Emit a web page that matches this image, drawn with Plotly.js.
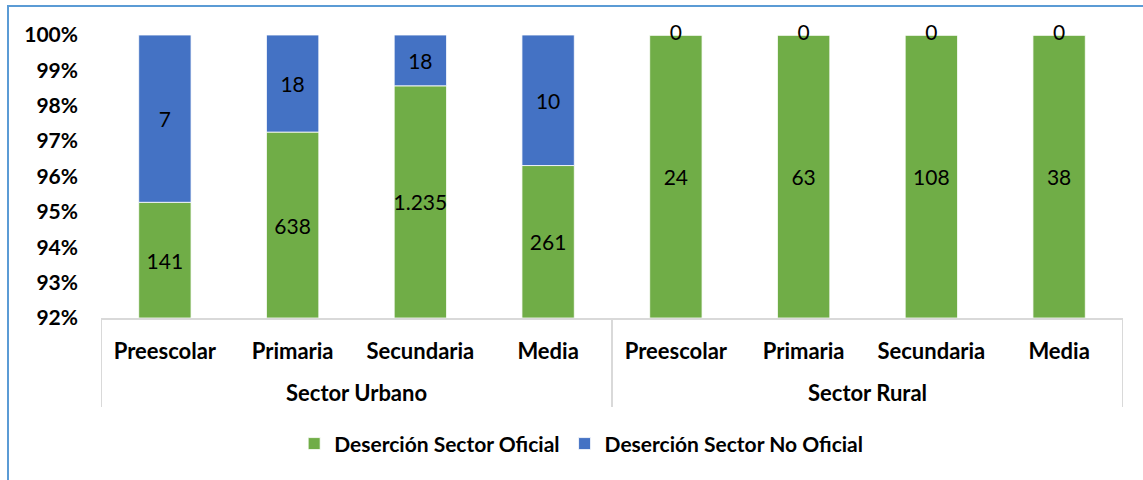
<!DOCTYPE html>
<html>
<head>
<meta charset="utf-8">
<script src="https://cdn.plot.ly/plotly-3.0.1.min.js"></script>
<style>
  html, body { margin: 0; padding: 0; background: #ffffff; }
  #wrap { position: relative; width: 1143px; height: 480px; overflow: hidden; }
  #chart { position: absolute; left: 0; top: 0; width: 1143px; height: 480px; }
  #frame { position: absolute; left: 7px; top: 5px; width: 1200px; height: 600px;
           border-left: 2px solid #5B9BD5; border-top: 2px solid #5B9BD5; pointer-events: none; }
</style>
</head>
<body>
<div id="wrap">
  <div id="chart"></div>
  <div id="frame"></div>
</div>
<script>
// ---- data ----
const sectores = ["Sector Urbano", "Sector Urbano", "Sector Urbano", "Sector Urbano",
                  "Sector Rural", "Sector Rural", "Sector Rural", "Sector Rural"];
const niveles = ["Preescolar", "Primaria", "Secundaria", "Media",
                 "Preescolar", "Primaria", "Secundaria", "Media"];
const desercionOficial = [141, 638, 1235, 261, 24, 63, 108, 38];
const desercionNoOficial = [7, 18, 18, 10, 0, 0, 0, 0];
const labelsOficial = ["141", "638", "1.235", "261", "24", "63", "108", "38"];
const labelsNoOficial = ["7", "18", "18", "10", "0", "0", "0", "0"];
const yTicks = [92, 93, 94, 95, 96, 97, 98, 99, 100];

const GREEN = "#70AD47";
const BLUE = "#4472C4";
const GRID = "#D9D9D9";
const FONT = "Lato, 'Open Sans', sans-serif";
const Y_MIN = yTicks[0], Y_MAX = yTicks[yTicks.length - 1];

// shares of each category total (100% stacked)
const idx = niveles.map((_, i) => i);
const totals = idx.map(i => desercionOficial[i] + desercionNoOficial[i]);
const pctOficial = idx.map(i => desercionOficial[i] / totals[i] * 100);
const pctNoOficial = idx.map(i => desercionNoOficial[i] / totals[i] * 100);

// groups (sectors) in order of appearance
const groups = [...new Set(sectores)];
const groupIdx = groups.map(g => idx.filter(i => sectores[i] === g));
const groupCenters = groupIdx.map(a => (a[0] + a[a.length - 1]) / 2);
const dividerPos = [-0.5].concat(groupIdx.map(a => a[a.length - 1] + 0.5));

const zeroIdx = idx.filter(i => desercionNoOficial[i] === 0);

const labelFont = { family: FONT, size: 21, color: "#000000" };

const traces = [
  {
    type: "bar", name: "Deserción Sector Oficial",
    x: idx, base: idx.map(() => Y_MIN), y: pctOficial.map(v => v - Y_MIN),
    width: 0.41,
    text: labelsOficial, textposition: "inside", insidetextanchor: "middle",
    textangle: 0, constraintext: "none", textfont: labelFont,
    marker: { color: GREEN, line: { color: "#ffffff", width: 0.8 } },
    hoverinfo: "skip"
  },
  {
    type: "bar", name: "Deserción Sector No Oficial",
    x: idx, base: pctOficial, y: pctNoOficial,
    width: 0.41,
    text: idx.map(i => desercionNoOficial[i] === 0 ? "" : labelsNoOficial[i]),
    textposition: "inside", insidetextanchor: "middle",
    textangle: 0, constraintext: "none", textfont: labelFont,
    marker: { color: BLUE, line: { color: "#ffffff", width: 0.8 } },
    hoverinfo: "skip"
  },
  {
    type: "scatter", mode: "text", showlegend: false,
    x: zeroIdx, y: zeroIdx.map(i => pctOficial[i] + pctNoOficial[i]),
    text: zeroIdx.map(i => labelsNoOficial[i]),
    textposition: "middle center", textfont: labelFont,
    cliponaxis: false, hoverinfo: "skip"
  }
];

const shapes = dividerPos.map(p => ({
  type: "line", xref: "x", yref: "paper", x0: p, x1: p, y0: 0, y1: -0.3145,
  line: { color: GRID, width: 2 }
}));

const annotations = groups.map((g, k) => ({
  text: "<b>" + g + "</b>", xref: "x", yref: "paper",
  x: groupCenters[k], y: -0.262, xanchor: "center", yanchor: "middle",
  showarrow: false, font: { family: FONT, size: 22, color: "#000000" }
}));

const layout = {
  width: 1143, height: 480,
  margin: { l: 101, r: 20, t: 35, b: 162 },
  paper_bgcolor: "#ffffff", plot_bgcolor: "#ffffff",
  barmode: "overlay",
  font: { family: FONT, size: 21, color: "#000000" },
  showlegend: true,
  legend: {
    orientation: "h", x: 0.189, xanchor: "left", y: -0.445, yanchor: "middle",
    font: { family: FONT, size: 21, color: "#000000", weight: "bold" },
    itemclick: false, itemdoubleclick: false, traceorder: "normal"
  },
  xaxis: {
    type: "linear", range: [-0.5, idx.length - 0.5],
    tickvals: idx, ticktext: niveles,
    showline: true, linecolor: GRID, linewidth: 2,
    ticks: "", ticklabelstandoff: 13, showgrid: false, zeroline: false,
    tickfont: { family: FONT, size: 22, color: "#000000", weight: "bold" }
  },
  yaxis: {
    range: [Y_MIN, Y_MAX], tickvals: yTicks, ticktext: yTicks.map(v => v + "%"),
    showgrid: false, zeroline: false, showline: false, ticks: "",
    ticklabelstandoff: 22,
    tickfont: { family: FONT, size: 21, color: "#000000", weight: "bold" }
  },
  shapes: shapes,
  annotations: annotations
};

Plotly.newPlot("chart", traces, layout, { displayModeBar: false, staticPlot: true });
</script>
</body>
</html>
